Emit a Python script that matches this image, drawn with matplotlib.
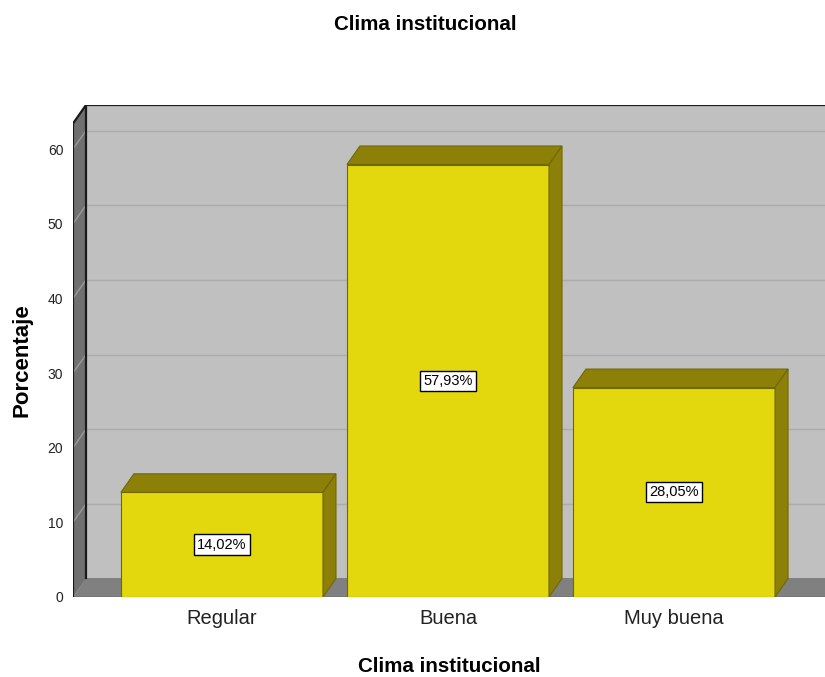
import matplotlib
matplotlib.use("Agg")
import matplotlib.pyplot as plt
from matplotlib.patches import Polygon

plt.rcParams['font.family'] = ['Liberation Sans', 'DejaVu Sans']

categories = ['Regular', 'Buena', 'Muy buena']
percentages = [14.02, 57.93, 28.05]
value_labels = ['14,02%', '57,93%', '28,05%']
yticks = [0, 10, 20, 30, 40, 50, 60]

front_col = '#e3d70e'
dark_col = '#8c8008'
edge_col = '#6f6806'

fig = plt.figure(figsize=(8.25, 6.77), dpi=100)
ax = fig.add_axes([73 / 825, 80 / 677, 752 / 825, 492 / 677])

xmin, xmax = -0.659, 2.668
ymax = 65.9
dx, dy = 0.0575, 2.48
width = 0.894

ax.set_xlim(xmin, xmax)
ax.set_ylim(0, ymax)

# back wall, floor, left wall
ax.add_patch(Polygon([(xmin + dx, dy), (xmax, dy), (xmax, ymax), (xmin + dx, ymax)],
                     closed=True, facecolor='#c0c0c0', edgecolor='none', zorder=0))
ax.add_patch(Polygon([(xmin, 0), (xmax, 0), (xmax, dy), (xmin + dx, dy)],
                     closed=True, facecolor='#808080', edgecolor='none', zorder=1))
ax.add_patch(Polygon([(xmin, 0), (xmin + dx, dy), (xmin + dx, ymax), (xmin, ymax - dy)],
                     closed=True, facecolor='#707070', edgecolor='none', zorder=1))

# grid lines
for v in yticks[1:]:
    ax.plot([xmin + dx, xmax], [v + dy, v + dy], color='#ababab', lw=1, zorder=0.5)
    ax.plot([xmin, xmin + dx], [v, v + dy], color='#9a9a9a', lw=1, zorder=1.5)

# frame lines
ax.plot([xmin + dx, xmin + dx, xmax], [dy, ymax, ymax], color='#1a1a1a', lw=1.6, zorder=2)
ax.plot([xmin, xmin, xmin + dx], [0, ymax - dy, ymax], color='#1a1a1a', lw=1.6, zorder=2)
ax.plot([xmin, xmax], [0, 0], color='#555555', lw=1, zorder=2)

# bars
xs = range(len(categories))
ax.bar(xs, percentages, width=width, color=front_col, edgecolor=edge_col, linewidth=0.8, zorder=3)
for x, v, lab in zip(xs, percentages, value_labels):
    x0, x1 = x - width / 2, x + width / 2
    ax.add_patch(Polygon([(x0, v), (x0 + dx, v + dy), (x1 + dx, v + dy), (x1, v)],
                         closed=True, facecolor=dark_col, edgecolor=edge_col, lw=0.8, zorder=3))
    ax.add_patch(Polygon([(x1, 0), (x1 + dx, dy), (x1 + dx, v + dy), (x1, v)],
                         closed=True, facecolor=dark_col, edgecolor=edge_col, lw=0.8, zorder=3))
    ax.text(x, v / 2, lab, ha='center', va='center', fontsize=10.5, zorder=4,
            bbox=dict(boxstyle='square,pad=0.22', facecolor='white', edgecolor='black', lw=1))

ax.set_xticks(list(xs))
ax.set_xticklabels(categories, fontsize=14.5, color='#222222')
ax.set_yticks(yticks)
ax.set_yticklabels([str(t) for t in yticks], fontsize=10, color='#222222')
ax.tick_params(axis='both', length=0)
ax.tick_params(axis='y', pad=7)
ax.tick_params(axis='x', pad=9)
for s in ax.spines.values():
    s.set_visible(False)

fig.text(449 / 825, 1 - 667 / 677, 'Clima institucional', ha='center', va='center',
         fontsize=14.8, fontweight='bold')
fig.text(22 / 825, 1 - 360 / 677, 'Porcentaje', ha='center', va='center', rotation=90,
         fontsize=16, fontweight='bold')
fig.text(425 / 825, 1 - 24 / 677, 'Clima institucional', ha='center', va='center',
         fontsize=14.8, fontweight='bold')

fig.savefig('out.png', dpi=100)
